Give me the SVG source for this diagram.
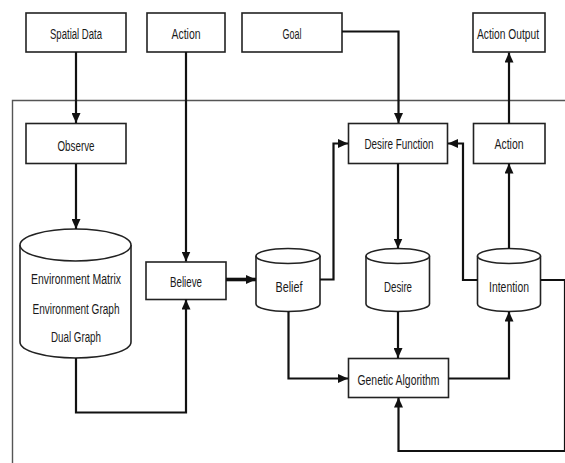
<svg xmlns="http://www.w3.org/2000/svg" width="565" height="463" viewBox="0 0 565 463">
<style>
.box{fill:#fff;stroke:#222;stroke-width:1.6}
.cyl{fill:#fff;stroke:#222;stroke-width:1.6}
.lbl{font-family:"Liberation Sans",Arial,sans-serif;font-size:15.5px;fill:#1a1a1a;text-anchor:middle}
.con{fill:none;stroke:#111;stroke-width:2.2;stroke-linejoin:miter}
.frame{fill:none;stroke:#555;stroke-width:1.4}
</style>
<defs>
<marker id="ah" markerUnits="userSpaceOnUse" markerWidth="10" markerHeight="9" refX="10" refY="4.5" orient="auto">
<path d="M0,0 L10,4.5 L0,9 Z" fill="#111"/>
</marker>
</defs>
<rect width="565" height="463" fill="#fff"/>
<path class="frame" d="M12.5,463 V100.5 H565"/>

<g id="spatial-data"><rect class="box" x="26" y="13" width="100" height="39"/><text class="lbl" x="76" y="38.5" textLength="52" lengthAdjust="spacingAndGlyphs">Spatial Data</text></g>
<g id="action-in"><rect class="box" x="147" y="13" width="78" height="39"/><text class="lbl" x="186" y="38.5" textLength="29" lengthAdjust="spacingAndGlyphs">Action</text></g>
<g id="goal"><rect class="box" x="242" y="13" width="100" height="39"/><text class="lbl" x="292" y="38.5" textLength="19" lengthAdjust="spacingAndGlyphs">Goal</text></g>
<g id="action-output"><rect class="box" x="473" y="13" width="72" height="39"/><text class="lbl" x="508" y="38.5" textLength="62" lengthAdjust="spacingAndGlyphs">Action Output</text></g>
<g id="observe"><rect class="box" x="26" y="123.5" width="100" height="40"/><text class="lbl" x="76" y="151" textLength="37" lengthAdjust="spacingAndGlyphs">Observe</text></g>
<g id="desire-function"><rect class="box" x="348.5" y="123.5" width="99" height="40"/><text class="lbl" x="399" y="149" textLength="69" lengthAdjust="spacingAndGlyphs">Desire Function</text></g>
<g id="action-mid"><rect class="box" x="473.5" y="123.5" width="71.5" height="40"/><text class="lbl" x="509" y="149" textLength="29" lengthAdjust="spacingAndGlyphs">Action</text></g>
<g id="environment"><path class="cyl" d="M20,245 A55.5,16 0 0,1 131,245 V342 A55.5,16 0 0,1 20,342 Z"/><path class="cyl" d="M20,245 A55.5,16 0 0,0 131,245"/>
<text class="lbl" x="76" y="283.5" textLength="90" lengthAdjust="spacingAndGlyphs">Environment Matrix</text>
<text class="lbl" x="76" y="313.5" textLength="87" lengthAdjust="spacingAndGlyphs">Environment Graph</text>
<text class="lbl" x="76" y="341.5" textLength="50" lengthAdjust="spacingAndGlyphs">Dual Graph</text></g>
<g id="believe"><rect class="box" x="146" y="262" width="80" height="37.5"/><text class="lbl" x="186" y="287" textLength="32" lengthAdjust="spacingAndGlyphs">Believe</text></g>
<g id="belief"><path class="cyl" d="M256,256 A32,7.5 0 0,1 320,256 V304 A32,7.5 0 0,1 256,304 Z"/><path class="cyl" d="M256,256 A32,7.5 0 0,0 320,256"/><text class="lbl" x="289" y="292" textLength="27" lengthAdjust="spacingAndGlyphs">Belief</text></g>
<g id="desire"><path class="cyl" d="M366,256 A31.75,7.5 0 0,1 429.5,256 V304 A31.75,7.5 0 0,1 366,304 Z"/><path class="cyl" d="M366,256 A31.75,7.5 0 0,0 429.5,256"/><text class="lbl" x="398" y="292" textLength="28" lengthAdjust="spacingAndGlyphs">Desire</text></g>
<g id="intention"><path class="cyl" d="M477.5,256 A31.5,7.5 0 0,1 540.5,256 V304 A31.5,7.5 0 0,1 477.5,304 Z"/><path class="cyl" d="M477.5,256 A31.5,7.5 0 0,0 540.5,256"/><text class="lbl" x="509" y="292" textLength="40" lengthAdjust="spacingAndGlyphs">Intention</text></g>
<g id="genetic-algorithm"><rect class="box" x="348.5" y="358.5" width="100" height="39"/><text class="lbl" x="398.5" y="385" textLength="82" lengthAdjust="spacingAndGlyphs">Genetic Algorithm</text></g>

<g id="connectors">
<path class="con" marker-end="url(#ah)" d="M76,52 V123"/>
<path class="con" marker-end="url(#ah)" d="M76,164 V229"/>
<path class="con" marker-end="url(#ah)" d="M186,52 V261.5"/>
<path class="con" marker-end="url(#ah)" d="M76,358 V412.5 H186 V299.5"/>
<path class="con" style="stroke-width:3.6" marker-end="url(#ah)" d="M226,279.5 H256"/>
<path class="con" marker-end="url(#ah)" d="M320,279.5 H333.5 V143.5 H348"/>
<path class="con" marker-end="url(#ah)" d="M342,31.5 H398.5 V123"/>
<path class="con" marker-end="url(#ah)" d="M398,163.5 V248.5"/>
<path class="con" marker-end="url(#ah)" d="M398,311.5 V358"/>
<path class="con" marker-end="url(#ah)" d="M288.5,311.5 V378.5 H348"/>
<path class="con" marker-end="url(#ah)" d="M448.5,378.5 H509 V311.5"/>
<path class="con" marker-end="url(#ah)" d="M509,248.5 V163.5"/>
<path class="con" marker-end="url(#ah)" d="M509,123.5 V52.5"/>
<path class="con" marker-end="url(#ah)" d="M477.5,280 H463 V143.5 H448"/>
<path class="con" marker-end="url(#ah)" d="M540.5,280 H565 V451 H398.5 V397.5"/>
</g>
</svg>
